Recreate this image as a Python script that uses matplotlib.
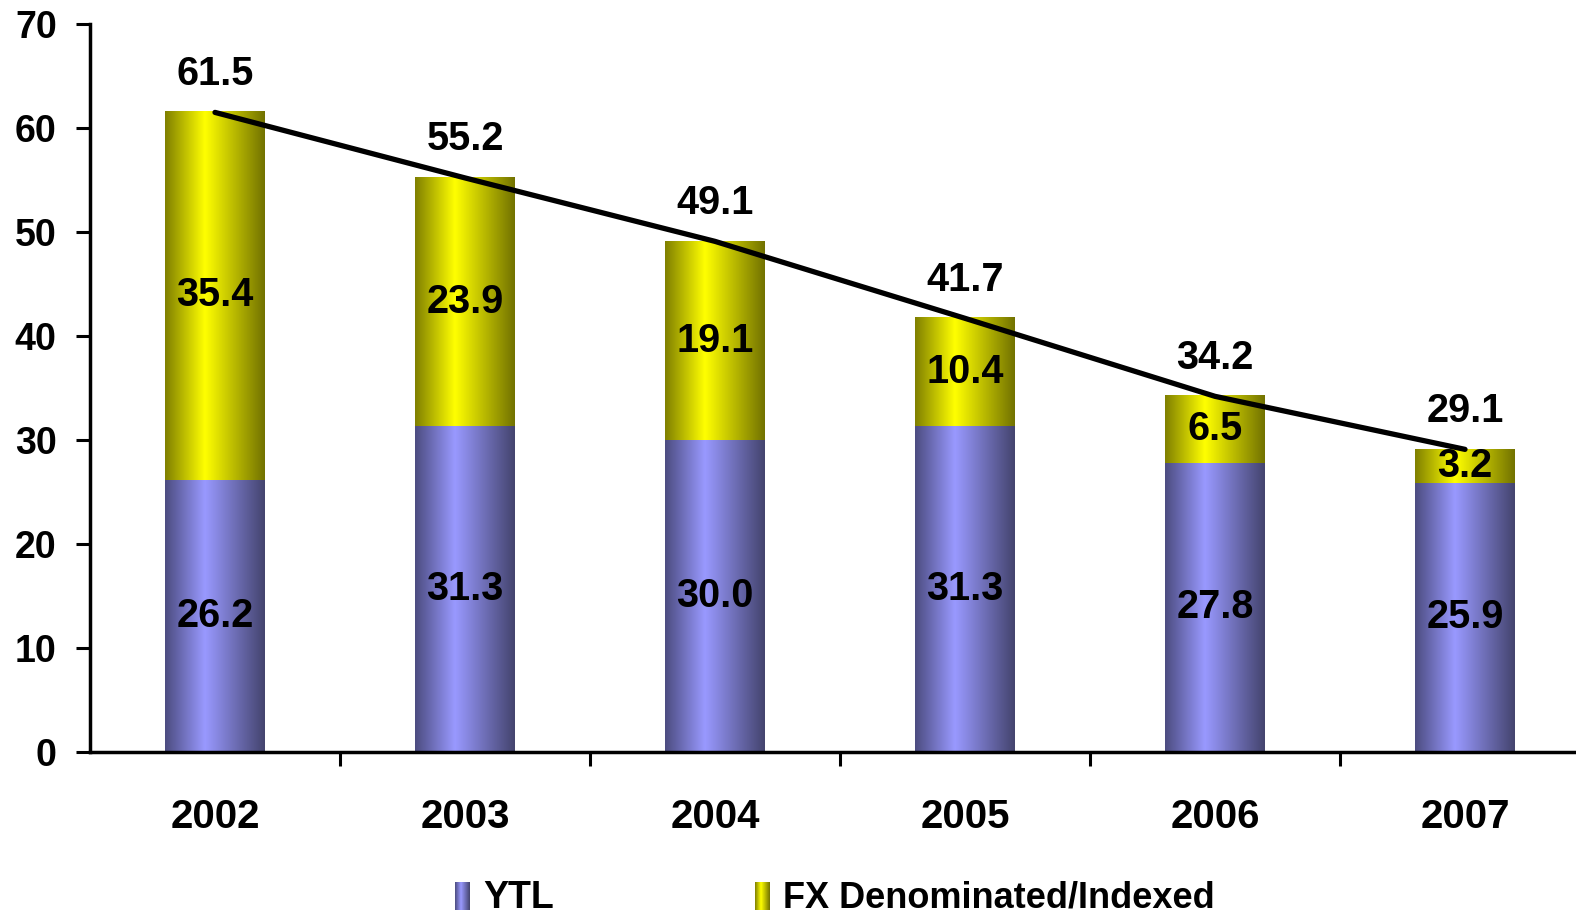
import numpy as np
import matplotlib.pyplot as plt
from matplotlib.colors import LinearSegmentedColormap

years = ['2002', '2003', '2004', '2005', '2006', '2007']
ytl = [26.2, 31.3, 30.0, 31.3, 27.8, 25.9]
fx = [35.4, 23.9, 19.1, 10.4, 6.5, 3.2]
total = [61.5, 55.2, 49.1, 41.7, 34.2, 29.1]

plt.rcParams['font.family'] = ['Liberation Sans', 'DejaVu Sans']
plt.rcParams['font.weight'] = 'bold'

# bar shading: dark edges, bright just left of centre
pos = [0.0, 0.4, 1.0]
blue_cm = LinearSegmentedColormap.from_list('b', list(zip(pos, ['#4c4c80', '#9999ff', '#44446e'])))
yel_cm = LinearSegmentedColormap.from_list('y', list(zip(pos, ['#7f7f00', '#ffff00', '#727200'])))
grad = np.linspace(0, 1, 256).reshape(1, -1)

fig = plt.figure(figsize=(15.76, 9.17), dpi=100)
ax = fig.add_axes([90/1576, 165/917, 1500/1576, 728/917])

fs = 28.5
w = 0.4
x = np.arange(len(years))
for i in x:
    ax.imshow(grad, cmap=blue_cm, extent=[i - w/2, i + w/2, 0, ytl[i]], aspect='auto', zorder=2)
    ax.imshow(grad, cmap=yel_cm, extent=[i - w/2, i + w/2, ytl[i], ytl[i] + fx[i]], aspect='auto', zorder=2)
    ax.text(i, ytl[i] / 2, f'{ytl[i]:.1f}', ha='center', va='center', fontsize=fs, fontweight='bold', zorder=4)
    ax.text(i, ytl[i] + fx[i] / 2, f'{fx[i]:.1f}', ha='center', va='center', fontsize=fs, fontweight='bold', zorder=4)
    ax.text(i, total[i] + 1.9, f'{total[i]:.1f}', ha='center', va='bottom', fontsize=fs, fontweight='bold', zorder=4)

ax.plot(x, total, color='black', lw=3.8, solid_capstyle='round', zorder=3)

ax.set_xlim(-0.5, 5.5)
ax.set_ylim(0, 70)
ax.set_yticks(range(0, 71, 10))
ax.set_xticks(x)
ax.set_xticklabels(years)
ax.set_xticks(np.arange(0.5, 5.5, 1), minor=True)
ax.tick_params(axis='x', which='major', length=0, pad=33, labelsize=29)
ax.tick_params(axis='x', which='minor', length=10, width=2.2, direction='out')
ax.tick_params(axis='y', length=10, width=2.2, direction='out', labelsize=27, pad=14)
for lab in ax.get_xticklabels() + ax.get_yticklabels():
    lab.set_fontweight('bold')
for s in ['top', 'right']:
    ax.spines[s].set_visible(False)
for s in ['left', 'bottom']:
    ax.spines[s].set_linewidth(2.5)

# legend
sq_b = fig.add_axes([455/1576, 1 - 910/917, 15/1576, 28/917])
sq_b.imshow(grad, cmap=blue_cm, aspect='auto')
sq_b.axis('off')
sq_y = fig.add_axes([755/1576, 1 - 910/917, 15/1576, 28/917])
sq_y.imshow(grad, cmap=yel_cm, aspect='auto')
sq_y.axis('off')
fig.text(483/1576, 1 - 898/917, 'YTL', ha='left', va='center', fontsize=27, fontweight='bold')
fig.text(783/1576, 1 - 898/917, 'FX Denominated/Indexed', ha='left', va='center', fontsize=26,
         fontweight='bold')

fig.savefig('out.png', dpi=100)
